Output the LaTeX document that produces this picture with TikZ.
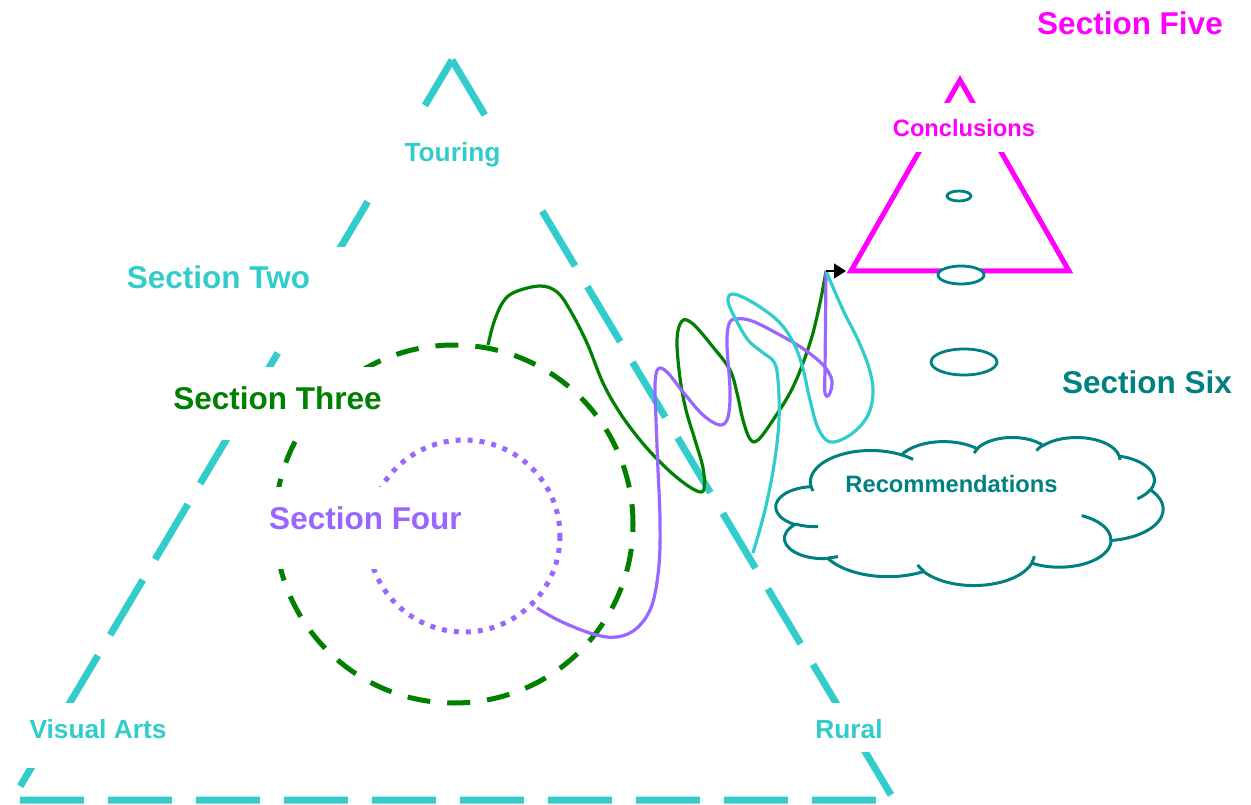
\documentclass[tikz,border=0pt]{standalone}
\usepackage{fontspec}
\setmainfont{Liberation Sans}
\usetikzlibrary{arrows.meta}
\definecolor{cTour}{HTML}{33CCCC}
\definecolor{cThree}{HTML}{008000}
\definecolor{cFour}{HTML}{9966FF}
\definecolor{cFive}{HTML}{FF00FF}
\definecolor{cSix}{HTML}{008080}
\tikzset{
  big/.style   ={font=\fontsize{31.5}{36}\selectfont\bfseries, inner ysep=0pt, anchor=base},
  med/.style   ={font=\fontsize{26.3}{30}\selectfont\bfseries, inner ysep=0pt, anchor=base},
  sml/.style   ={font=\fontsize{23.7}{28}\selectfont\bfseries, inner ysep=0pt, anchor=base},
  mask/.style  ={fill=white, inner xsep=8pt},
  bigtri/.style={draw=cTour, line width=7pt, dash pattern=on 64pt off 24pt},
  ring/.style  ={draw=cThree, line width=5pt, dash pattern=on 23pt off 17pt, dash phase=15pt},
  dotring/.style={draw=cFour, line width=5pt, dash pattern=on 5pt off 7pt},
  wave/.style  ={line width=3.2pt},
  tri/.style   ={draw=cFive, line width=5pt},
  egg/.style   ={draw=cSix, fill=white, line width=2.8pt},
  puffs/.style ={draw=cSix, line width=3pt},
  fl/.style    ={-{Triangle[length=12pt,width=15pt]}, draw=black, line width=1.2pt},
}
% one lobe of the cloud: radii, start angle and sweep as seen on the ellipse
\newcommand\puff[4]{%
  \pgfextra{%
    \pgfmathsetmacro\puffA{atan2(#1*sin(#3),#2*cos(#3))}%
    \pgfmathsetmacro\puffB{atan2(#1*sin(#3+#4),#2*cos(#3+#4))}%
    \pgfmathsetmacro\puffD{mod(\puffB-\puffA+720,360)}%
  }%
  arc[x radius=#1, y radius=#2, start angle=\puffA, delta angle=\puffD]}

\begin{document}
\begin{tikzpicture}[x=1pt, y=-1pt]
  \useasboundingbox (0,0) rectangle (1251,805);

  \coordinate (top) at (452,60);
  \coordinate (rgt) at (894,800);
  \coordinate (lft) at (12,800);
  \draw[bigtri] (top) -- (rgt) -- (lft) -- cycle;
  \draw[ring] (454,524) circle[radius=179];
  \draw[dotring] (464,536) circle[radius=96];

  \node[med,mask,text=cTour,text height=44pt,text depth=38pt,inner xsep=43pt] (touring) at (452.5,162) {Touring};
  \node[big,mask,text=cTour,text height=42pt,text depth=59pt,inner xsep=36pt] (two) at (218.5,289) {Section Two};
  \node[big,mask,text=cThree,text height=42pt,text depth=31pt] (three) at (277.5,409) {Section Three};
  \node[big,mask,text=cFour,text height=42pt,text depth=40pt] (four) at (365.5,529) {Section Four};
  \node[med,mask,text=cTour,text height=35pt,text depth=30pt] (visual) at (98,738) {Visual Arts};
  \node[med,mask,text=cTour,text height=35pt,text depth=14pt] (rural) at (849,738) {Rural};

  \coordinate (hub) at (826,271);
  \coordinate (g0) at (488,345);
  \coordinate (p0) at (537,608);
  \coordinate (c0) at (753,553);
  \draw[wave,cThree] plot[smooth,tension=.6] coordinates {(g0) (494,322) (503,302) (515,292) (540,286)
    (557,292) (570,310) (587,343) (603,383) (620,413) (640,440) (660,462) (680,480) (697,491) (704,489)
    (703,468) (695,440) (686,410) (680,378) (677,340) (682,321) (693,324) (713,347) (730,370) (737,393)
    (743,420) (750,439) (758,440) (773,420) (793,387) (810,343) (820,303) (hub)};
  \draw[wave,cFour] plot[smooth,tension=.6] coordinates {(p0) (560,621) (593,634) (617,637) (637,628)
    (652,605) (659,565) (660,520) (658,470) (656,420) (655,385) (658,369) (667,372) (683,392) (703,415)
    (720,425) (728,417) (730,390) (727,345) (729,324) (736,319) (752,321) (780,335) (805,350) (824,366)
    (832,381) (829,395) (825,393) (825,372)} -- (hub);
  \draw[wave,cTour] plot[smooth,tension=.6] coordinates {(c0) (765,510) (774,465) (779,420) (778,380)
    (774,362) (762,352) (748,340) (735,318) (728,301) (733,294) (752,302) (777,320) (792,340) (802,365)
    (810,400) (818,428) (830,442) (850,435) (867,417) (873,393) (869,368) (858,340) (843,310) (hub)};

  \coordinate (ta) at (960,80);
  \coordinate (tr) at (1069,271);
  \coordinate (tl) at (851,271);
  \coordinate (tip) at (846,271);
  \draw[fl] (hub) -- (tip);
  \draw[tri] (ta) -- (tr) -- (tl) -- cycle;
  \node[sml,mask,text=cFive,text height=33.7pt,text depth=15.3pt] (concl) at (964,136.7) {Conclusions};

  \draw[egg] (959,196) ellipse[x radius=12, y radius=5];
  \draw[egg] (961,275) ellipse[x radius=23, y radius=9];
  \draw[egg] (964,362) ellipse[x radius=33, y radius=13];

  \begin{scope}[shift={(776,437)}, x=0.8958pt, y=-0.3426pt]
    \draw[puffs,fill=white] (39.00,143.70)
      \puff{67.53}{91.90}{-190.4875}{123.7805}
      \puff{53.33}{72.67}{-144.1024}{89.9452}
      \puff{43.65}{59.45}{-145.8079}{99.7230}
      \puff{48.57}{65.95}{-130.9861}{117.2417}
      \puff{53.33}{72.73}{-78.7089}{109.0269}
      \puff{67.75}{92.20}{-46.2673}{130.2690}
      \puff{57.85}{78.67}{0.6250}{114.0333}
      \puff{67.52}{92.15}{22.4516}{115.1726}
      \puff{77.20}{105.43}{66.2426}{75.7110}
      \puff{43.60}{59.18}{-274.9421}{146.7356}
      \puff{43.45}{59.45}{-246.8285}{152.5189} -- cycle;
    \draw[puffs]
      (46.93,261.77) \puff{43.45}{59.45}{86.7420}{26.4295}
      (69.28,348.99) \puff{43.60}{59.18}{73.6105}{11.4475}
      (164.78,390.90) \puff{67.52}{92.15}{137.6242}{14.0811}
      (288.27,347.51) \puff{67.52}{92.15}{6.4533}{15.9984}
      (341.29,229.54) \puff{57.85}{78.67}{-70.2924}{70.9174}
      (417.98,153.54) \puff{53.33}{72.73}{30.3180}{27.7515}
      (383.24,54.26) \puff{48.57}{65.95}{-13.7443}{14.8589}
      (290.78,39.52) \puff{48.57}{65.95}{-149.1815}{18.1954}
      (221.41,47.20) \puff{43.65}{59.45}{-163.4943}{17.6864}
      (140.00,51.92) \puff{67.53}{91.90}{-66.7070}{12.3194}
      (41.27,157.89) \puff{67.53}{91.90}{157.6544}{11.8582};
  \end{scope}
  \node[sml,text=cSix] (rec) at (951.5,492.3) {Recommendations};

  \node[big,text=cFive] (five) at (1130,34.5) {Section Five};
  \node[big,text=cSix] (six) at (1147,393) {Section Six};
\end{tikzpicture}
\end{document}
